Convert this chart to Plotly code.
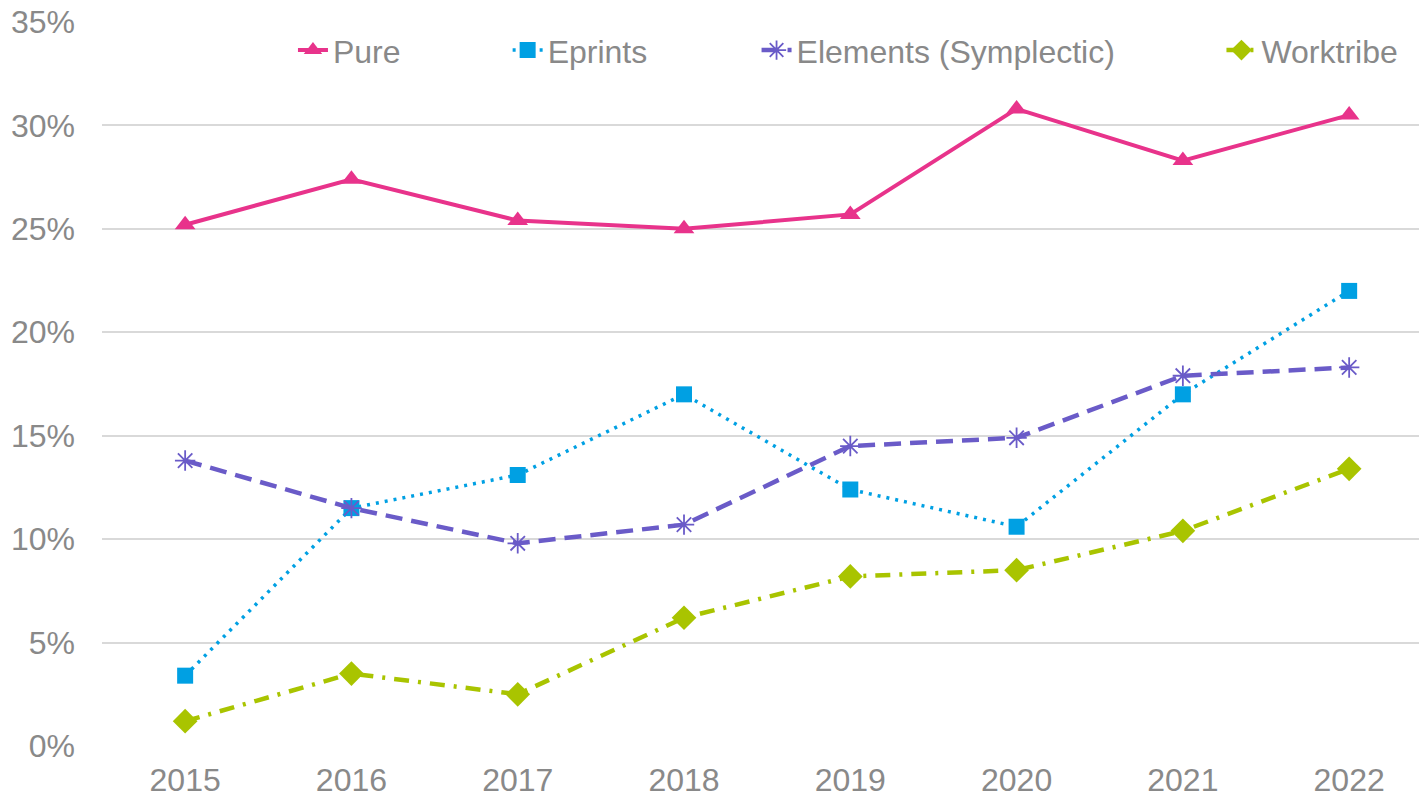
import plotly.graph_objects as go

years = ["2015", "2016", "2017", "2018", "2019", "2020", "2021", "2022"]
pure = [25.2, 27.4, 25.4, 25.0, 25.7, 30.8, 28.3, 30.5]
eprints = [3.4, 11.5, 13.1, 17.0, 12.4, 10.6, 17.0, 22.0]
elements = [13.8, 11.5, 9.8, 10.7, 14.5, 14.9, 17.9, 18.3]
worktribe = [1.2, 3.5, 2.5, 6.2, 8.2, 8.5, 10.4, 13.4]
y_ticks = [0, 5, 10, 15, 20, 25, 30, 35]
y_tick_labels = [f"{v}%" for v in y_ticks]

FONT = "Arial, Liberation Sans, sans-serif"
GRAY = "#898989"
FS = 32

series = [
    ("Pure", pure, "#E8338B", "solid", "triangle-up", 18, 4, "legend"),
    ("Eprints", eprints, "#00A0E3", "3px,6px", "square", 16, 3.5, "legend2"),
    ("Elements (Symplectic)", elements, "#6A5BC8", "17px,9px", "asterisk-open", 17, 4.5, "legend3"),
    ("Worktribe", worktribe, "#A9C400", "15px,9px,3px,9px", "diamond", 19, 4.5, "legend4"),
]

fig = go.Figure()
for name, vals, color, dash, sym, msize, lw, leg in series:
    fig.add_trace(go.Scatter(
        x=years, y=vals, name=name, mode="lines+markers",
        line=dict(color=color, width=lw, dash=dash),
        marker=dict(symbol=sym, size=msize, color=color,
                    line=dict(color=color, width=1.8 if sym == "asterisk-open" else 0)),
        legend=leg, showlegend=True,
    ))

leg_common = dict(orientation="h", yanchor="middle", xanchor="left",
                  font=dict(family=FONT, size=FS, color=GRAY),
                  bgcolor="rgba(0,0,0,0)")
fig.update_layout(
    width=1419, height=800,
    showlegend=True,
    margin=dict(l=102, r=0, t=22, b=54),
    paper_bgcolor="white", plot_bgcolor="white",
    font=dict(family=FONT, size=FS, color=GRAY),
    legend=dict(x=0.145, y=0.961, **leg_common),
    legend2=dict(x=0.308, y=0.961, **leg_common),
    legend3=dict(x=0.497, y=0.961, **leg_common),
    legend4=dict(x=0.850, y=0.961, **leg_common),
    xaxis=dict(type="category", range=[-0.5, 7.42], showgrid=False,
               showline=False, zeroline=False, ticks="",
               tickfont=dict(family=FONT, size=FS, color=GRAY),
               ticklabelstandoff=12),
    yaxis=dict(range=[0, 35], tickvals=y_ticks, ticktext=y_tick_labels,
               showgrid=True, gridcolor="#D9D9D9", gridwidth=1.5,
               zeroline=False, showline=False, ticks="",
               tickfont=dict(family=FONT, size=FS, color=GRAY),
               ticklabelstandoff=26),
)

fig.write_html("out.html", config={"displayModeBar": False},
               post_script="document.body.style.margin='0';")
